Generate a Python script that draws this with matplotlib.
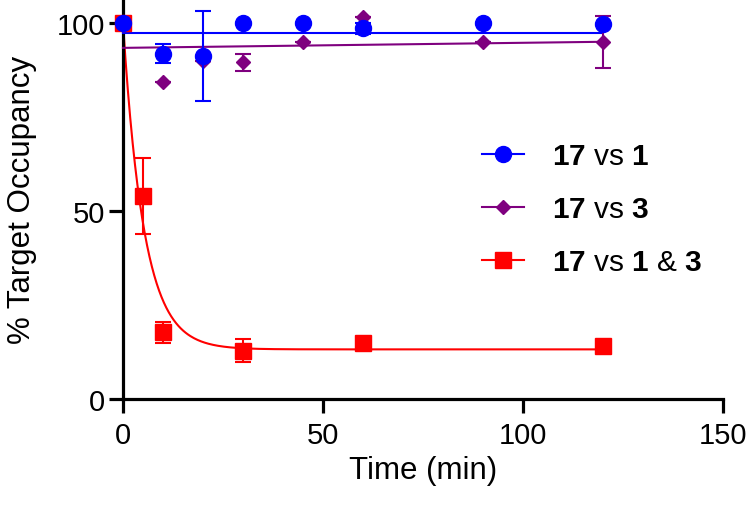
import numpy as np
import matplotlib
matplotlib.use("Agg")
import matplotlib.pyplot as plt
from matplotlib.lines import Line2D

plt.rcParams['font.family'] = ['Liberation Sans', 'DejaVu Sans']
plt.rcParams['mathtext.fontset'] = 'custom'
plt.rcParams['mathtext.rm'] = 'Liberation Sans'
plt.rcParams['mathtext.bf'] = 'Liberation Sans:bold'

# ---- data ----
time_1 = [0, 10, 20, 30, 45, 60, 90, 120]
occ_1 = [100, 91.8, 91.3, 100, 100, 98.6, 100, 99.8]
err_1 = [0, 2.5, 12, 0, 0, 1.5, 0, 0]

time_3 = [0, 10, 20, 30, 45, 60, 90, 120]
occ_3 = [100, 84.2, 90.0, 89.6, 95.0, 101.5, 95.0, 95.0]
err_3 = [0, 0, 0, 2.3, 0, 0, 0, 7.0]

time_13 = [0, 5, 10, 30, 60, 120]
occ_13 = [100, 54.0, 17.8, 12.9, 14.9, 14.2]
err_13 = [0, 10.2, 2.8, 3.0, 0, 0]

# fit parameters
fit1_level = 97.3
fit3_intercept = 93.4
fit3_slope = 0.0135
fit13_top = 100.0
fit13_plateau = 13.2
fit13_k = 0.19
fit_tmax = 120

labels = [r"$\mathbf{17}$ vs $\mathbf{1}$",
          r"$\mathbf{17}$ vs $\mathbf{3}$",
          r"$\mathbf{17}$ vs $\mathbf{1}$ & $\mathbf{3}$"]

c_blue = '#0000FF'
c_purple = '#7F007F'
c_red = '#FF0000'

fig = plt.figure(figsize=(7.5, 5.1), dpi=100)
ax = fig.add_axes([123/750, 110/510, 600/750, 400/510])

tt = np.linspace(0, fit_tmax, 400)
ax.plot(tt, fit13_plateau + (fit13_top - fit13_plateau) * np.exp(-fit13_k * tt),
        color=c_red, lw=1.5, zorder=2, clip_on=False)
ax.plot(tt, fit3_intercept + fit3_slope * tt, color=c_purple, lw=1.5, zorder=3, clip_on=False)
ax.plot(tt, np.full_like(tt, fit1_level), color=c_blue, lw=1.5, zorder=4, clip_on=False)

ekw = dict(ls='none', elinewidth=1.5, capsize=5.5, capthick=1.5, clip_on=False)
ax.errorbar(time_13, occ_13, yerr=err_13, color=c_red, marker='s', ms=11.5,
            zorder=5, **ekw)
ax.errorbar(time_3, occ_3, yerr=err_3, color=c_purple, marker='D', ms=7.5,
            zorder=6, **ekw)
ax.errorbar(time_1, occ_1, yerr=err_1, color=c_blue, marker='o', ms=11.5,
            zorder=7, **ekw)

ax.set_xlim(0, 150)
ax.set_ylim(0, 106.4)
ax.set_xticks([0, 50, 100, 150])
ax.set_yticks([0, 50, 100])
for s in ['top', 'right']:
    ax.spines[s].set_visible(False)
for s in ['left', 'bottom']:
    ax.spines[s].set_linewidth(2.3)
ax.tick_params(width=2.3, length=10, labelsize=21, pad=3)
ax.tick_params(axis='x', pad=6)
ax.set_xlabel('Time (min)', fontsize=22.5, labelpad=4)
ax.set_ylabel('% Target Occupancy', fontsize=22.5, labelpad=14)

handles = [
    Line2D([], [], color=c_blue, marker='o', ms=11.5, lw=1.5),
    Line2D([], [], color=c_purple, marker='D', ms=7.5, lw=1.5),
    Line2D([], [], color=c_red, marker='s', ms=11.5, lw=1.5),
]
fig.legend(handles, labels, loc='upper left', bbox_to_anchor=(482/750, 1 - 143/510),
           frameon=False, fontsize=21.5, handlelength=1.4, handletextpad=0.95,
           labelspacing=0.84, borderpad=0, borderaxespad=0)

fig.savefig('out.png', dpi=100)
